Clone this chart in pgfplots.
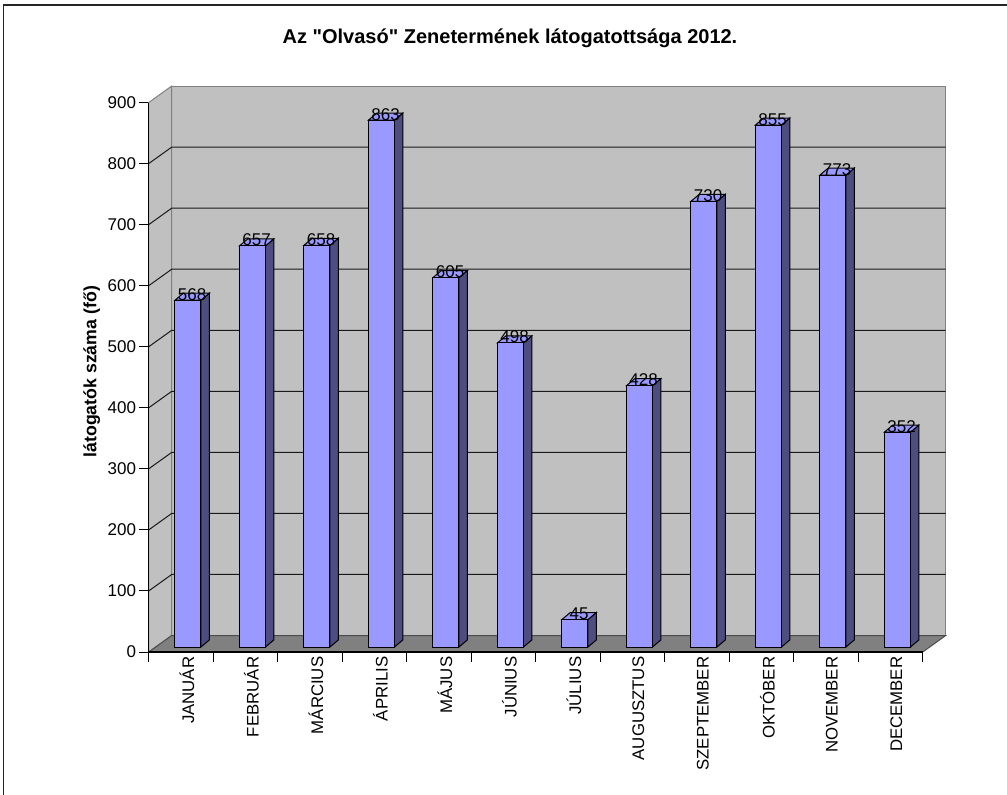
\documentclass[border=0pt]{standalone}
\usepackage{fontspec}
\setmainfont{Liberation Sans}[Ligatures=TeXOff]
\usepackage{pgfplots}
\usepackage{pgfplotstable}
\pgfplotsset{compat=1.18}
\definecolor{wall}{HTML}{C0C0C0}
\definecolor{wallline}{HTML}{808080}
\definecolor{floorc}{HTML}{808080}
\definecolor{barfront}{HTML}{9999FF}
\definecolor{barside}{HTML}{4D4D80}
\definecolor{bartop}{HTML}{9999FF}
\newcommand\tfont{\fontsize{12.75}{14}\selectfont}
\newcommand\vfont{\fontsize{12.75}{14}\selectfont}
\pgfplotstableread{
i v
0 568
1 657
2 658
3 863
4 605
5 498
6 45
7 428
8 730
9 855
10 773
11 352
}\datatable
% geometry (axis units)
\def\dxW{0.3566}\def\dyW{27.0}
\def\sx{0.1085}\def\sy{8.19}
\def\hw{0.2016}
\def\ddx{0.1287}\def\ddy{11.47}
\begin{document}
\begin{tikzpicture}
\path[use as bounding box] (0pt,0pt) rectangle (755.25pt,-595.5pt);
\draw[line width=1.3pt,black!85] (2.6pt,-600pt) -- (2.6pt,-3.6pt) -- (760pt,-3.6pt);
\begin{axis}[
  at={(111.525pt,-489pt)}, anchor=south west,
  scale only axis, width=580.5pt, height=412.1pt,
  xmin=-0.5, xmax=11.5, ymin=0, ymax=900,
  clip=false,
  axis line style={draw=none},
  tick align=outside, major tick length=7.5pt,
  tick style={black, line width=0.75pt},
  xtick pos=bottom, ytick pos=left,
  ytick={0,100,...,900},
  xtick={-0.5,0.5,...,11.5},
  xticklabel={\phantom{0}},
  extra x ticks={0,1,...,11},
  extra x tick labels={JANUÁR,FEBRUÁR,MÁRCIUS,ÁPRILIS,MÁJUS,JÚNIUS,JÚLIUS,AUGUSZTUS,SZEPTEMBER,OKTÓBER,NOVEMBER,DECEMBER},
  extra x tick style={major tick length=0pt, xticklabel style={rotate=90, anchor=east, yshift=-4.5pt, font=\fontsize{12.6}{14}\selectfont}},
  yticklabel style={font=\tfont, xshift=1.5pt},
  /pgf/number format/assume math mode=true,
  ylabel={látogatók száma (fő)},
  ylabel style={at={(axis description cs:-0.0735,0.51)}, anchor=center, font=\bfseries\fontsize{13.3}{15}\selectfont},
  title={Az "Olvasó" Zenetermének látogatottsága 2012.},
  title style={at={(axis description cs:0.4668,1.1028)}, anchor=center, font=\bfseries\fontsize{15}{17}\selectfont},
]
% back wall
\pgfmathsetmacro\bwl{-0.5+\dxW}\pgfmathsetmacro\bwr{11.5+\dxW}
\pgfmathsetmacro\bwt{900+\dyW}
\edef\temp{%
\noexpand\addplot[fill=wall, draw=wallline, line width=0.75pt] coordinates {(\bwl,\dyW) (\bwr,\dyW) (\bwr,\bwt) (\bwl,\bwt)} --cycle;
\noexpand\addplot[fill=wall, draw=wallline, line width=0.75pt] coordinates {(-0.5,0) (\bwl,\dyW) (\bwl,\bwt) (-0.5,900)} --cycle;
}\temp
% gridlines
\pgfplotsinvokeforeach{100,200,...,800}{%
  \pgfmathsetmacro\gy{#1+\dyW}%
  \edef\temp{%
  \noexpand\addplot[black!90, line width=0.75pt] coordinates {(-0.5,#1) (\bwl,\gy) (\bwr,\gy)};
  }\temp
}
% floor
\edef\temp{%
\noexpand\addplot[fill=floorc, draw=black!70, line width=0.75pt] coordinates {(-0.5,0) (11.5,0) (\bwr,\dyW) (\bwl,\dyW)} --cycle;
}\temp
% bars
\pgfplotsinvokeforeach{0,...,11}{%
  \pgfplotstablegetelem{#1}{v}\of\datatable
  \let\val\pgfplotsretval
  \pgfmathsetmacro\xa{#1+\sx-\hw}%
  \pgfmathsetmacro\xb{#1+\sx+\hw}%
  \pgfmathsetmacro\xc{\xa+\ddx}%
  \pgfmathsetmacro\xd{\xb+\ddx}%
  \pgfmathsetmacro\ya{\sy}%
  \pgfmathsetmacro\yb{\val+\sy}%
  \pgfmathsetmacro\yc{\ya+\ddy}%
  \pgfmathsetmacro\yd{\yb+\ddy}%
  \pgfmathsetmacro\xl{#1+\sx+0.5*\ddx}%
  \edef\temp{%
    \noexpand\addplot[fill=barside,draw=black,line width=0.75pt] coordinates {(\xb,\ya) (\xd,\yc) (\xd,\yd) (\xb,\yb)} --cycle;
    \noexpand\addplot[fill=bartop,draw=black,line width=0.75pt] coordinates {(\xa,\yb) (\xb,\yb) (\xd,\yd) (\xc,\yd)} --cycle;
    \noexpand\addplot[fill=barfront,draw=black,line width=0.75pt] coordinates {(\xa,\ya) (\xb,\ya) (\xb,\yb) (\xa,\yb)} --cycle;
    \noexpand\node[font=\noexpand\vfont,anchor=base,inner sep=0pt,text=black] at (axis cs:\xl,\yb) {\val};
  }\temp
}
% axis lines
\addplot[black, line width=0.9pt] coordinates {(-0.5,900) (-0.5,0) (11.5,0)};
\end{axis}
\end{tikzpicture}
\end{document}
